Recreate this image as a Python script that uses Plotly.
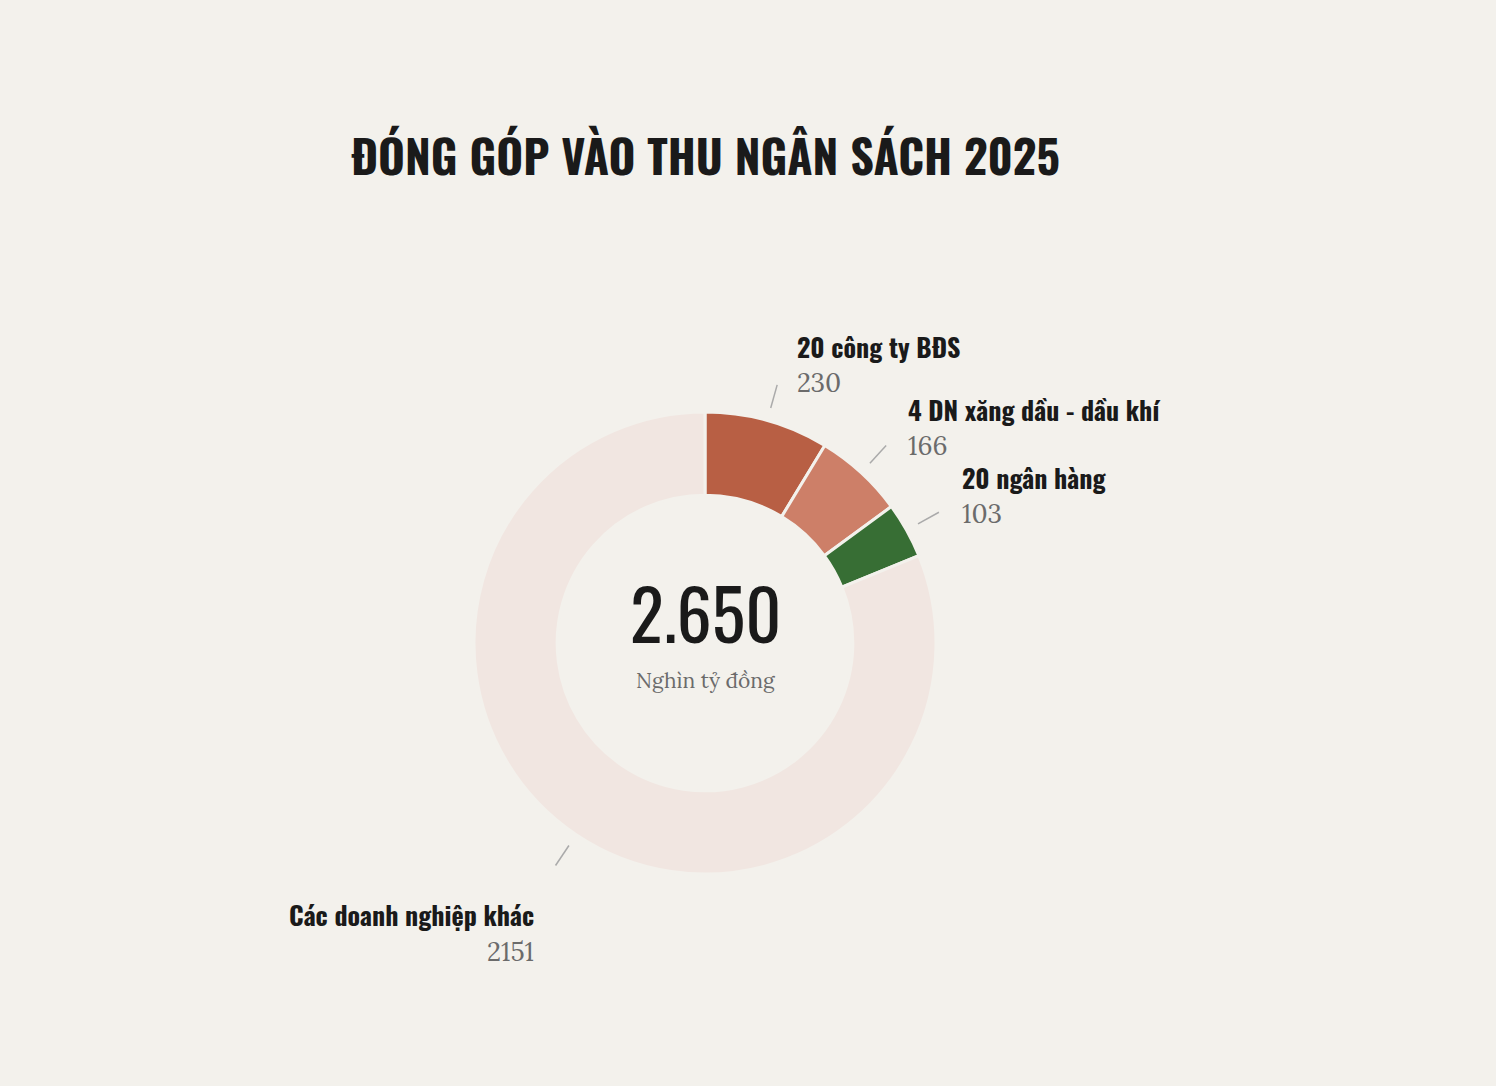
import math

import plotly.graph_objects as go

W, H = 1496, 1086

# ---- data
labels = ['20 công ty BĐS', '4 DN xăng dầu - dầu khí', '20 ngân hàng', 'Các doanh nghiệp khác']
values = [230, 166, 103, 2151]
colors = ['#b85f44', '#cd7f68', '#376e34', '#f1e6e1']
unit = 'Nghìn tỷ đồng'
title = 'ĐÓNG GÓP VÀO THU NGÂN SÁCH 2025'

BG = '#f3f1ec'
HEAD_FONT = 'Oswald, Liberation Sans Narrow, DejaVu Sans Condensed, sans-serif'
SERIF_FONT = 'Lora, Liberation Serif, DejaVu Serif, serif'

# donut geometry in pixels
cx, cy, r_out = 705, 643, 231


def px(x):
    return x / W


def py(y):
    return 1 - y / H


def polar(r, deg):
    # deg measured clockwise from 12 o'clock
    a = math.radians(deg)
    return cx + r * math.sin(a), cy - r * math.cos(a)


total = sum(values)

fig = go.Figure(go.Pie(
    labels=labels, values=values, sort=False, direction='clockwise', rotation=0,
    hole=0.64, marker=dict(colors=colors, line=dict(color=BG, width=3)),
    textinfo='none', hoverinfo='label+value', showlegend=False,
    domain=dict(x=[px(cx - r_out), px(cx + r_out)], y=[py(cy + r_out), py(cy - r_out)]),
))

annotations = []
shapes = []
cum = 0
for lab, val in zip(labels, values):
    mid = (cum + val / 2) / total * 360
    cum += val
    x1, y1 = polar(244, mid)
    x2, y2 = polar(268, mid)
    shapes.append(dict(type='line', xref='paper', yref='paper',
                       x0=px(x1), y0=py(y1), x1=px(x2), y1=py(y2),
                       line=dict(color='#aaaaaa', width=1.5)))
    if mid < 180:
        # labels on the right drift down a little as the angle grows
        shift = 6 * math.sin(math.radians(mid)) - 4
        tx, anchor = x2 + 16 + 6 * math.sin(math.radians(mid)), 'left'
        name_y, val_y = y2 - 36 + shift, y2 + shift
    else:
        tx, anchor = x2 - 20, 'right'
        name_y, val_y = y2 + 49, y2 + 86
    annotations.append(dict(x=px(tx), y=py(name_y), xref='paper', yref='paper',
                            text='<b>%s</b>' % lab, showarrow=False,
                            xanchor=anchor, yanchor='middle',
                            font=dict(family=HEAD_FONT, size=26, color='#1a1a1a')))
    annotations.append(dict(x=px(tx), y=py(val_y), xref='paper', yref='paper',
                            text=str(val), showarrow=False,
                            xanchor=anchor, yanchor='middle',
                            font=dict(family=SERIF_FONT, size=26, color='#6b6b6b')))

# centre total
annotations.append(dict(x=px(cx), y=py(611), xref='paper', yref='paper',
                        text=f'{total:,}'.replace(',', '.'), showarrow=False,
                        xanchor='center', yanchor='middle',
                        font=dict(family=HEAD_FONT, size=70, color='#1a1a1a')))
annotations.append(dict(x=px(cx), y=py(680), xref='paper', yref='paper',
                        text=unit, showarrow=False, xanchor='center', yanchor='middle',
                        font=dict(family=SERIF_FONT, size=21, color='#6b6b6b')))
# title
annotations.append(dict(x=px(cx), y=py(154), xref='paper', yref='paper',
                        text='<b>%s</b>' % title, showarrow=False,
                        xanchor='center', yanchor='middle',
                        font=dict(family=HEAD_FONT, size=46, color='#1a1a1a')))

fig.update_layout(
    width=W, height=H,
    paper_bgcolor=BG, plot_bgcolor=BG,
    margin=dict(l=0, r=0, t=0, b=0),
    annotations=annotations, shapes=shapes,
)

fig.write_html('out.html', config=dict(displayModeBar=False),
               post_script="document.body.style.margin='0';"
                           "document.body.style.background='%s';" % BG)
